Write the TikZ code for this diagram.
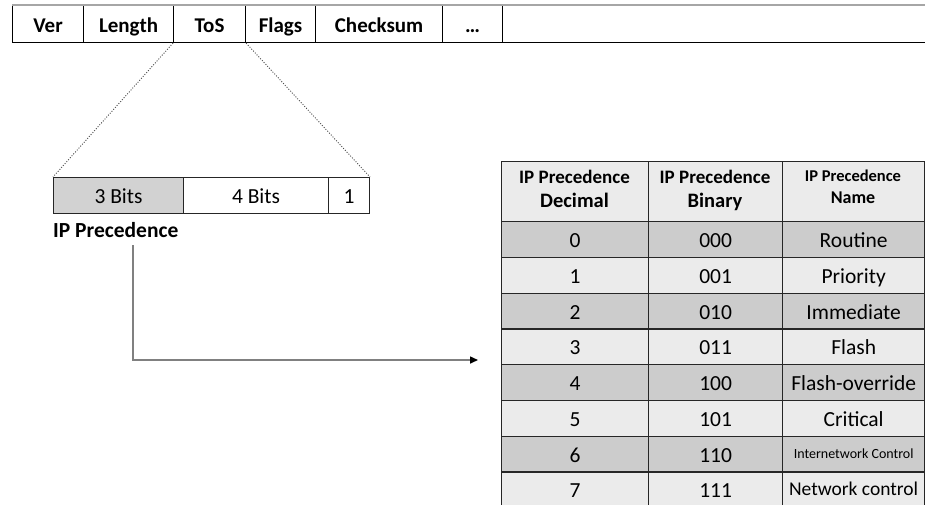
\documentclass[tikz,border=0pt]{standalone}
\usepackage{fontspec}
\setmainfont{Carlito}
\usetikzlibrary{arrows.meta}
\definecolor{rowlight}{HTML}{EBEBEB}
\definecolor{rowdark}{HTML}{CCCCCC}
\definecolor{bitgrey}{HTML}{D2D2D2}
\definecolor{linkgrey}{HTML}{808080}
\begin{document}
\begin{tikzpicture}[x=1pt,y=-1pt,
  evenline/.style={text height=16pt, text depth=0pt},
  field/.style={draw=black, line width=1.1pt, minimum height=37pt, inner sep=0pt,
    anchor=north west, evenline, font=\fontsize{21}{25}\selectfont\bfseries},
  bitcell/.style={draw=black!85, line width=1pt, minimum height=36pt, inner sep=0pt,
    anchor=north west, evenline, font=\fontsize{21.5}{25}\selectfont},
  tcell/.style={draw=black!85, line width=1.3pt, minimum height=35.75pt, inner sep=0pt,
    anchor=north west, evenline, font=\fontsize{21.5}{25}\selectfont},
  hcell/.style={draw=black!85, line width=1.3pt, minimum height=60pt, inner sep=0pt,
    anchor=north west, fill=rowlight},
  htext/.style={anchor=base, inner sep=0pt, font=\bfseries},
  zoomline/.style={dash pattern=on 1pt off 1.6pt, line width=0.9pt, black!70},
  link/.style={draw=linkgrey, line width=1.5pt, -{Triangle[length=8pt,width=7pt,black]}}
]
\useasboundingbox (0,0) rectangle (925,504);
\clip (0,0) rectangle (925,504);

% header fields of the packet
\node[field, minimum width=71pt]  (ver)  at (12,5)  {Ver};
\node[field, minimum width=90pt]  (len)  at (83,5)  {Length};
\node[field, minimum width=72pt]  (tos)  at (173,5) {ToS};
\node[field, minimum width=70pt]  (flg)  at (245,5) {Flags};
\node[field, minimum width=127pt] (chk)  at (315,5) {Checksum};
\node[field, minimum width=60pt]  (dots) at (442,5) {…};
\node[field, minimum width=440pt] (rest) at (502,5) {};
\draw[gray!70, line width=1.2pt] (ver.north west) -- (rest.north east);

% the ToS byte split into bits
\node[bitcell, minimum width=130pt, fill=bitgrey] (b3) at (53,177)  {3 Bits};
\node[bitcell, minimum width=145pt, fill=white]   (b4) at (183,177) {4 Bits};
\node[bitcell, minimum width=41pt,  fill=white]   (b1) at (328,177) {1};

\draw[zoomline] (tos.south west) -- (b3.north west);
\draw[zoomline] (tos.south east) -- (b1.north east);

\node[anchor=base west, inner sep=0pt, font=\fontsize{21.5}{25}\selectfont\bfseries]
  (ipp) at (53,237) {IP Precedence};

% precedence table
\node[hcell, minimum width=147pt] (h0) at (501,161) {};
\node[hcell, minimum width=134pt] (h1) at (648,161) {};
\node[hcell, minimum width=142pt] (h2) at (782,161) {};
\node[htext, font=\fontsize{19}{22}\selectfont\bfseries] (h0a) at (574.5,183) {IP Precedence};
\node[htext, font=\fontsize{20.5}{24}\selectfont\bfseries] (h0b) at (574.5,207) {Decimal};
\node[htext, font=\fontsize{19}{22}\selectfont\bfseries] (h1a) at (715,183) {IP Precedence};
\node[htext, font=\fontsize{20.5}{24}\selectfont\bfseries] (h1b) at (715,207) {Binary};
\node[htext, font=\fontsize{16.5}{20}\selectfont\bfseries] (h2a) at (853,181) {IP Precedence};
\node[htext, font=\fontsize{18}{22}\selectfont\bfseries] (h2b) at (853,203) {Name};

\foreach \d/\b/\n [count=\i from 0] in {
    0/000/Routine,
    1/001/Priority,
    2/010/Immediate,
    3/011/Flash,
    4/100/Flash-override,
    5/101/Critical,
    6/110/{\fontsize{14}{16}\selectfont\raisebox{4pt}{Internetwork Control}},
    7/111/{\fontsize{19.5}{22}\selectfont\raisebox{2pt}{Network control}}} {
  \ifodd\i \def\rowfill{rowlight}\else \def\rowfill{rowdark}\fi
  \pgfmathsetmacro\rowtop{221+35.75*\i}
  \node[tcell, minimum width=147pt, fill=\rowfill] (d\i) at (501,\rowtop) {\d};
  \node[tcell, minimum width=134pt, fill=\rowfill] (bn\i) at (648,\rowtop) {\b};
  \node[tcell, minimum width=142pt, fill=\rowfill] (n\i) at (782,\rowtop) {\n};
}

% link from the precedence bits to the table
\coordinate (linkstart) at (133,245);
\coordinate (linkend) at (478,360);
\draw[link] (linkstart) |- (linkend);
\end{tikzpicture}
\end{document}
